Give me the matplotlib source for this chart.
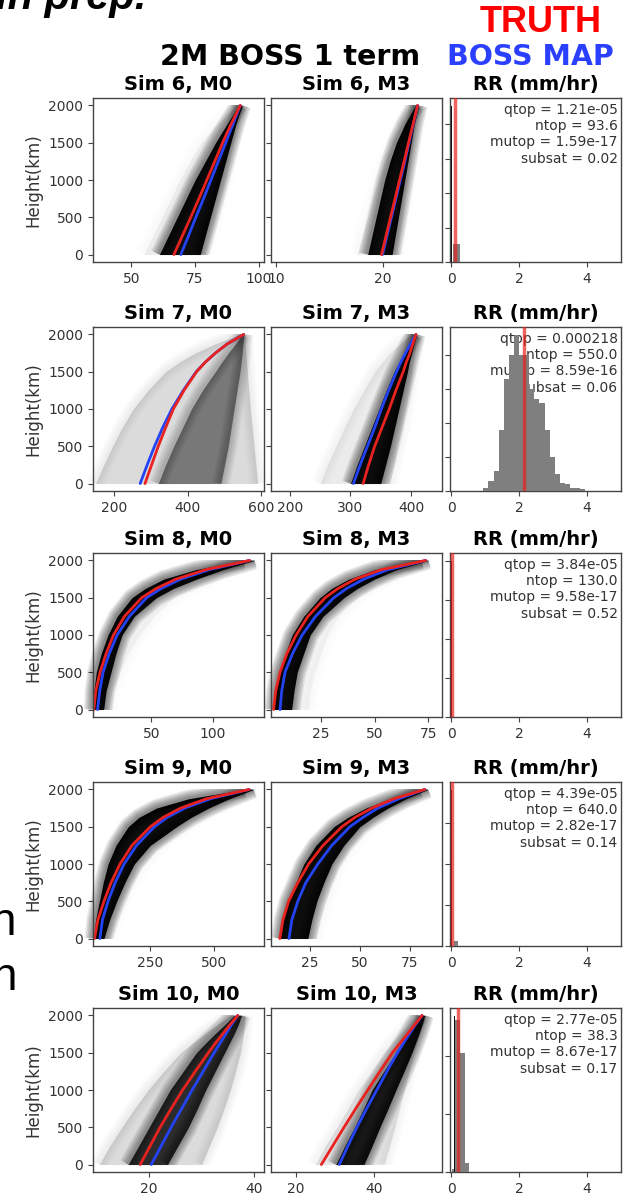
import numpy as np
import matplotlib.pyplot as plt
from matplotlib.patches import Rectangle

HEIGHT = [0, 250, 500, 750, 1000, 1250, 1500, 1625, 1750, 1875, 2000]

# ---- Sim 6 ----
S6_M0_TRUTH = [66.7, 70.0, 73.3, 76.5, 79.6, 82.7, 85.8, 87.4, 89.1, 90.9, 92.7]
S6_M0_MAP = [69.4, 72.4, 75.3, 78.3, 81.2, 84.1, 87.0, 88.4, 89.9, 91.3, 92.7]
S6_M0_CORE_LO = [61, 64.5, 68, 71.5, 75, 79, 83, 85.2, 87.5, 89.8, 92]
S6_M0_CORE_HI = [77, 79, 81, 83, 85, 87, 89, 90, 91, 92.2, 93.5]
S6_M0_OUT_LO = [55, 58.5, 62, 65.5, 69, 73, 77.5, 80.5, 83.5, 87.5, 91]
S6_M0_OUT_HI = [79, 81, 83, 85, 87, 88.5, 90, 91, 92, 93, 94]

S6_M3_TRUTH = [19.9, 20.33, 20.75, 21.18, 21.6, 22.03, 22.45, 22.66, 22.88, 23.09, 23.3]
S6_M3_MAP = [20.0, 20.42, 20.84, 21.26, 21.68, 22.1, 22.5, 22.7, 22.9, 23.1, 23.3]
S6_M3_CORE_LO = [18.6, 19.0, 19.4, 19.8, 20.2, 20.7, 21.3, 21.7, 22.1, 22.6, 23.1]
S6_M3_CORE_HI = [20.9, 21.2, 21.5, 21.8, 22.1, 22.4, 22.7, 22.85, 23.0, 23.2, 23.4]
S6_M3_OUT_LO = [17.6, 18.1, 18.6, 19.1, 19.6, 20.2, 20.9, 21.3, 21.8, 22.4, 23.0]
S6_M3_OUT_HI = [21.3, 21.6, 21.9, 22.1, 22.4, 22.6, 22.9, 23.0, 23.15, 23.3, 23.5]

# ---- Sim 7 ----
S7_M0_TRUTH = [284, 302, 320, 340, 361, 390, 424, 447, 475, 508, 552]
S7_M0_MAP = [271, 290, 310, 332, 357, 388, 423, 447, 475, 508, 552]
S7_M0_CORE_LO = [320, 340, 362, 386, 410, 440, 475, 492, 510, 530, 548]
S7_M0_CORE_HI = [490, 500, 510, 518, 526, 534, 542, 545, 548, 550, 553]
S7_M0_OUT_LO = [150, 172, 196, 222, 252, 292, 340, 376, 420, 475, 540]
S7_M0_OUT_HI = [590, 585, 580, 575, 570, 566, 562, 560, 558, 556, 555]

S7_M3_TRUTH = [321, 330, 340, 352, 364, 375, 387, 392, 398, 403, 408]
S7_M3_MAP = [305, 316, 328, 340, 351, 363, 376, 383, 391, 399, 408]
S7_M3_CORE_LO = [300, 311, 323, 335, 347, 359, 372, 380, 388, 396, 405]
S7_M3_CORE_HI = [350, 358, 366, 373, 380, 387, 394, 397, 401, 405, 409]
S7_M3_OUT_LO = [250, 262, 276, 290, 305, 322, 340, 352, 365, 382, 400]
S7_M3_OUT_HI = [365, 372, 378, 385, 391, 397, 402, 404, 406, 408, 410]

# ---- Sim 8 ----
S8_M0_TRUTH = [3, 4.6, 8, 13, 19, 28, 42, 54, 70, 94, 130]
S8_M0_MAP = [6, 7.8, 10.5, 15.5, 22, 32, 46, 58, 74, 97, 130]
S8_M0_CORE_LO = [2.3, 3.0, 5, 9, 14.5, 22, 34, 45, 60, 86, 125]
S8_M0_CORE_HI = [11, 13, 17, 21, 26, 36, 54, 68, 87, 108, 134]
S8_M0_OUT_LO = [2.0, 2.5, 4, 7.5, 12, 19, 30, 41, 55, 82, 122]
S8_M0_OUT_HI = [15, 18, 24, 31, 40, 52, 68, 82, 98, 116, 136]

S8_M3_TRUTH = [3, 4, 6, 9.2, 13.5, 19, 27, 33, 41, 53, 73.7]
S8_M3_MAP = [6, 6.8, 8.3, 11.8, 16.3, 22.5, 31, 37, 45, 56, 73.7]
S8_M3_CORE_LO = [3, 3.8, 5.5, 8.5, 11.6, 17, 24.5, 30, 38, 50, 72]
S8_M3_CORE_HI = [11.4, 12.5, 14, 17, 20, 26, 35.7, 42, 50, 60, 75]
S8_M3_OUT_LO = [2.5, 3.3, 5, 7.8, 11, 16, 23, 29, 36, 48, 71]
S8_M3_OUT_HI = [19, 20, 22, 25, 28, 33, 42, 48, 56, 65, 76]

# ---- Sim 9 ----
S9_M0_TRUTH = [31, 44, 68, 96, 131, 178, 250, 300, 369, 470, 638]
S9_M0_MAP = [52, 62, 84, 112, 147, 196, 266, 316, 385, 485, 638]
S9_M0_CORE_LO = [28, 35, 50, 65, 84, 115, 163, 205, 274, 400, 620]
S9_M0_CORE_HI = [68, 90, 118, 150, 187, 250, 353, 410, 479, 560, 655]
S9_M0_OUT_LO = [25, 30, 43, 58, 76, 105, 150, 195, 260, 390, 615]
S9_M0_OUT_HI = [91, 112, 140, 175, 225, 290, 390, 445, 510, 585, 660]

S9_M3_TRUTH = [10, 11.6, 14.4, 19, 24.4, 31.6, 41, 47.5, 56, 67, 82.4]
S9_M3_MAP = [14.6, 16, 19, 23, 29, 36, 45, 51.5, 59, 69.5, 82.4]
S9_M3_CORE_LO = [10, 11.5, 14, 18, 22, 28, 37, 44, 53, 65, 80]
S9_M3_CORE_HI = [24, 26, 28.5, 32, 36, 42, 50, 56.5, 64, 73, 84]
S9_M3_OUT_LO = [9, 10.5, 13, 17, 21, 27, 36, 43, 52, 64, 79.5]
S9_M3_OUT_HI = [28, 30, 33, 36, 40, 46, 54, 60, 67, 75, 85]

# ---- Sim 10 ----
S10_M0_TRUTH = [18.3, 20.2, 22.1, 24.2, 26.4, 28.8, 31.3, 32.6, 34.0, 35.4, 36.9]
S10_M0_MAP = [20.4, 22.3, 24.2, 26.2, 28.2, 30.3, 32.4, 33.5, 34.6, 35.7, 36.9]
S10_M0_CORE_LO = [16.0, 18.0, 20.0, 22.0, 24.0, 26.5, 29, 30.7, 32.5, 34.4, 36.2]
S10_M0_CORE_HI = [23.5, 25.5, 27.5, 29.2, 30.8, 32.6, 34.4, 35.3, 36.2, 37, 37.6]
S10_M0_OUT_LO = [10.5, 12.5, 14.8, 17.2, 19.8, 22.8, 26, 28.2, 30.5, 33, 35.5]
S10_M0_OUT_HI = [30, 31.5, 33, 34.3, 35.5, 36.5, 37.4, 37.7, 38, 38.2, 38.3]

S10_M3_TRUTH = [26.5, 29.4, 32.3, 35.3, 38.4, 41.5, 44.7, 46.6, 48.5, 50.4, 52.3]
S10_M3_MAP = [31.1, 33.3, 35.6, 38.1, 40.7, 43.3, 46.0, 47.5, 49.0, 50.6, 52.3]
S10_M3_CORE_LO = [30.2, 32.5, 35, 37.3, 39.5, 42.5, 45.6, 47.1, 48.6, 50, 51.5]
S10_M3_CORE_HI = [37.4, 39.5, 41.5, 43.6, 45.6, 47.7, 49.7, 50.6, 51.5, 52.3, 53]
S10_M3_OUT_LO = [25, 27.5, 30.5, 33.3, 36, 39.3, 42.5, 44.5, 46.5, 48.8, 51]
S10_M3_OUT_HI = [42.6, 44, 45.3, 46.5, 47.7, 49, 50.3, 51, 51.8, 52.6, 53.3]

# ---- rain-rate histograms (mm/hr) ----
RR6_EDGES = [0.05, 0.26]
RR6_COUNTS = [52]
RR7_EDGES = [0.95, 1.10, 1.25, 1.40, 1.55, 1.70, 1.85, 2.00, 2.15, 2.30, 2.45,
             2.60, 2.75, 2.90, 3.05, 3.20, 3.35, 3.50, 3.65, 3.80, 3.95]
RR7_COUNTS = [1, 3, 6, 18, 33, 40, 46, 40, 40, 30, 27, 26, 18, 10, 5, 2.5, 2, 1, 1, 0.5]
RR8_EDGES = []
RR8_COUNTS = []
RR9_EDGES = [0.08, 0.20]
RR9_COUNTS = [12]
RR10_EDGES = [0.02, 0.13, 0.27, 0.41, 0.52]
RR10_COUNTS = [6, 262, 206, 16]

RR_SPIKE_X = [0.025, None, 0.02, 0.02, 0.11]
RR_SPIKE_N = [453, None, 400, 380, 270]
RR_TRUTH = [0.12, 2.15, 0.03, 0.04, 0.2]

SIMS = [6, 7, 8, 9, 10]
QTOP = [1.21e-05, 0.000218, 3.84e-05, 4.39e-05, 2.77e-05]
NTOP = [93.6, 550.0, 130.0, 640.0, 38.3]
MUTOP = [1.59e-17, 8.59e-16, 9.58e-17, 2.82e-17, 8.67e-17]
SUBSAT = [0.02, 0.06, 0.52, 0.14, 0.17]

M0_XLIM = [(35, 102), (143, 607), (2.3, 141.8), (25, 696), (9.3, 41.9)]
M3_XLIM = [(9.5, 25.6), (169, 451), (1.8, 81.3), (5.6, 91), (13.6, 57.4)]
M0_XTICKS = [[50, 75, 100], [200, 400, 600], [50, 100], [250, 500], [20, 40]]
M3_XTICKS = [[10, 20], [200, 300, 400], [25, 50, 75], [25, 50, 75], [20, 40]]

PROFILES = [
    [(S6_M0_TRUTH, S6_M0_MAP, S6_M0_CORE_LO, S6_M0_CORE_HI, S6_M0_OUT_LO, S6_M0_OUT_HI),
     (S6_M3_TRUTH, S6_M3_MAP, S6_M3_CORE_LO, S6_M3_CORE_HI, S6_M3_OUT_LO, S6_M3_OUT_HI)],
    [(S7_M0_TRUTH, S7_M0_MAP, S7_M0_CORE_LO, S7_M0_CORE_HI, S7_M0_OUT_LO, S7_M0_OUT_HI),
     (S7_M3_TRUTH, S7_M3_MAP, S7_M3_CORE_LO, S7_M3_CORE_HI, S7_M3_OUT_LO, S7_M3_OUT_HI)],
    [(S8_M0_TRUTH, S8_M0_MAP, S8_M0_CORE_LO, S8_M0_CORE_HI, S8_M0_OUT_LO, S8_M0_OUT_HI),
     (S8_M3_TRUTH, S8_M3_MAP, S8_M3_CORE_LO, S8_M3_CORE_HI, S8_M3_OUT_LO, S8_M3_OUT_HI)],
    [(S9_M0_TRUTH, S9_M0_MAP, S9_M0_CORE_LO, S9_M0_CORE_HI, S9_M0_OUT_LO, S9_M0_OUT_HI),
     (S9_M3_TRUTH, S9_M3_MAP, S9_M3_CORE_LO, S9_M3_CORE_HI, S9_M3_OUT_LO, S9_M3_OUT_HI)],
    [(S10_M0_TRUTH, S10_M0_MAP, S10_M0_CORE_LO, S10_M0_CORE_HI, S10_M0_OUT_LO, S10_M0_OUT_HI),
     (S10_M3_TRUTH, S10_M3_MAP, S10_M3_CORE_LO, S10_M3_CORE_HI, S10_M3_OUT_LO, S10_M3_OUT_HI)],
]
HISTS = [(RR6_EDGES, RR6_COUNTS), (RR7_EDGES, RR7_COUNTS), (RR8_EDGES, RR8_COUNTS),
         (RR9_EDGES, RR9_COUNTS), (RR10_EDGES, RR10_COUNTS)]

RED = '#e8221e'
BLUE = '#2443f5'
CORE_ALPHA = [[0.95, 0.95], [0.45, 0.95], [0.95, 0.95], [0.95, 0.95], [0.8, 0.9]]
OUTER_ALPHA = [[0.06, 0.06], [0.14, 0.08], [0.04, 0.04], [0.04, 0.04], [0.14, 0.1]]

W, H = 629, 1204
fig = plt.figure(figsize=(W / 100, H / 100), dpi=100)

COL_X = [93, 271, 450]
COL_W = 171
ROW_TOP = [98, 327, 553, 782, 1008]
ROW_H = 164


def add_ax(x, top):
    return fig.add_axes([x / W, 1 - (top + ROW_H) / H, COL_W / W, ROW_H / H])


def style(ax):
    for s in ax.spines.values():
        s.set_color('#444444')
        s.set_linewidth(1.0)
    ax.tick_params(labelsize=10, colors='#444444', labelcolor='#333333')


def band(ax, lo, hi, alpha, clip):
    ax.fill_betweenx(HEIGHT, lo, hi, color='k', alpha=alpha, lw=0)
    # soft edges to mimic the many overlapping ensemble curves
    for lw in (13, 11, 9, 7, 5, 3):
        for edge in (lo, hi):
            ln, = ax.plot(edge, HEIGHT, color='k', lw=lw, alpha=alpha * 0.09,
                          solid_capstyle='butt', solid_joinstyle='round')
            ln.set_clip_path(clip)


def profile(ax, data, core_alpha, outer_alpha):
    truth, bmap, core_lo, core_hi, out_lo, out_hi = data
    clip = Rectangle((-1e5, 0), 2e5, 2000, transform=ax.transData)
    band(ax, out_lo, out_hi, outer_alpha, clip)
    band(ax, core_lo, core_hi, core_alpha, clip)
    ax.plot(bmap, HEIGHT, color=BLUE, lw=2, solid_capstyle='round')
    ax.plot(truth, HEIGHT, color=RED, lw=2, solid_capstyle='round')
    ax.set_ylim(-100, 2100)
    ax.set_yticks([0, 500, 1000, 1500, 2000])


for i, sim in enumerate(SIMS):
    ax0 = add_ax(COL_X[0], ROW_TOP[i])
    ax1 = add_ax(COL_X[1], ROW_TOP[i])
    ax2 = add_ax(COL_X[2], ROW_TOP[i])

    profile(ax0, PROFILES[i][0], CORE_ALPHA[i][0], OUTER_ALPHA[i][0])
    ax0.set_xlim(*M0_XLIM[i])
    ax0.set_xticks(M0_XTICKS[i])
    ax0.set_ylabel('Height(km)', fontsize=12, color='#333333')
    ax0.set_title(f'Sim {sim}, M0', fontsize=14, fontweight='bold')

    profile(ax1, PROFILES[i][1], CORE_ALPHA[i][1], OUTER_ALPHA[i][1])
    ax1.set_xlim(*M3_XLIM[i])
    ax1.set_xticks(M3_XTICKS[i])
    ax1.set_yticklabels([])
    ax1.set_title(f'Sim {sim}, M3', fontsize=14, fontweight='bold')

    edges, counts = HISTS[i]
    ymax = max(counts + [RR_SPIKE_N[i] or 0])
    if counts:
        ax2.stairs(counts, edges, fill=True, color='#7f7f7f', zorder=3)
    if RR_SPIKE_X[i] is not None:
        ax2.bar([RR_SPIKE_X[i]], [RR_SPIKE_N[i]], width=0.035, color='#111111', zorder=3)
    ax2.axvline(RR_TRUTH[i], color=RED, alpha=0.7, lw=2.5, zorder=4)
    ax2.set_xlim(-0.03, 5.0)
    ax2.set_ylim(0, ymax * 1.05)
    ax2.set_xticks([0, 2, 4])
    ax2.set_yticklabels([])
    ax2.set_title('RR (mm/hr)', fontsize=14, fontweight='bold')
    txt = (f'qtop = {QTOP[i]:.3g}\nntop = {NTOP[i]:.1f}\n'
           f'mutop = {MUTOP[i]:.3g}\nsubsat = {SUBSAT[i]:.2f}')
    ax2.text(0.98, 0.97, txt, transform=ax2.transAxes, ha='right', va='top',
             fontsize=10, color='#333333', linespacing=1.2, zorder=1)

    for ax in (ax0, ax1, ax2):
        style(ax)


def ftext(x, y, s, **kw):
    fig.text(x / W, 1 - y / H, s, **kw)


ftext(-4, 9, 'in prep.', fontsize=30, fontweight='bold', style='italic',
      family='Liberation Sans', ha='left', va='baseline')
ftext(541, 23, 'TRUTH', fontsize=26, fontweight='bold', family='Liberation Sans',
      color='#ff0000', ha='center', va='center')
ftext(290, 57, '2M BOSS 1 term', fontsize=20.5, fontweight='bold', ha='center', va='center')
ftext(530, 57, 'BOSS MAP', fontsize=20.5, fontweight='bold', color='#2b40ff',
      ha='center', va='center')
ftext(16, 935, 'n', fontsize=33, family='Liberation Sans', ha='right', va='baseline')
ftext(17, 990, 'h', fontsize=33, family='Liberation Sans', ha='right', va='baseline')

fig.savefig('out.png', dpi=100)
